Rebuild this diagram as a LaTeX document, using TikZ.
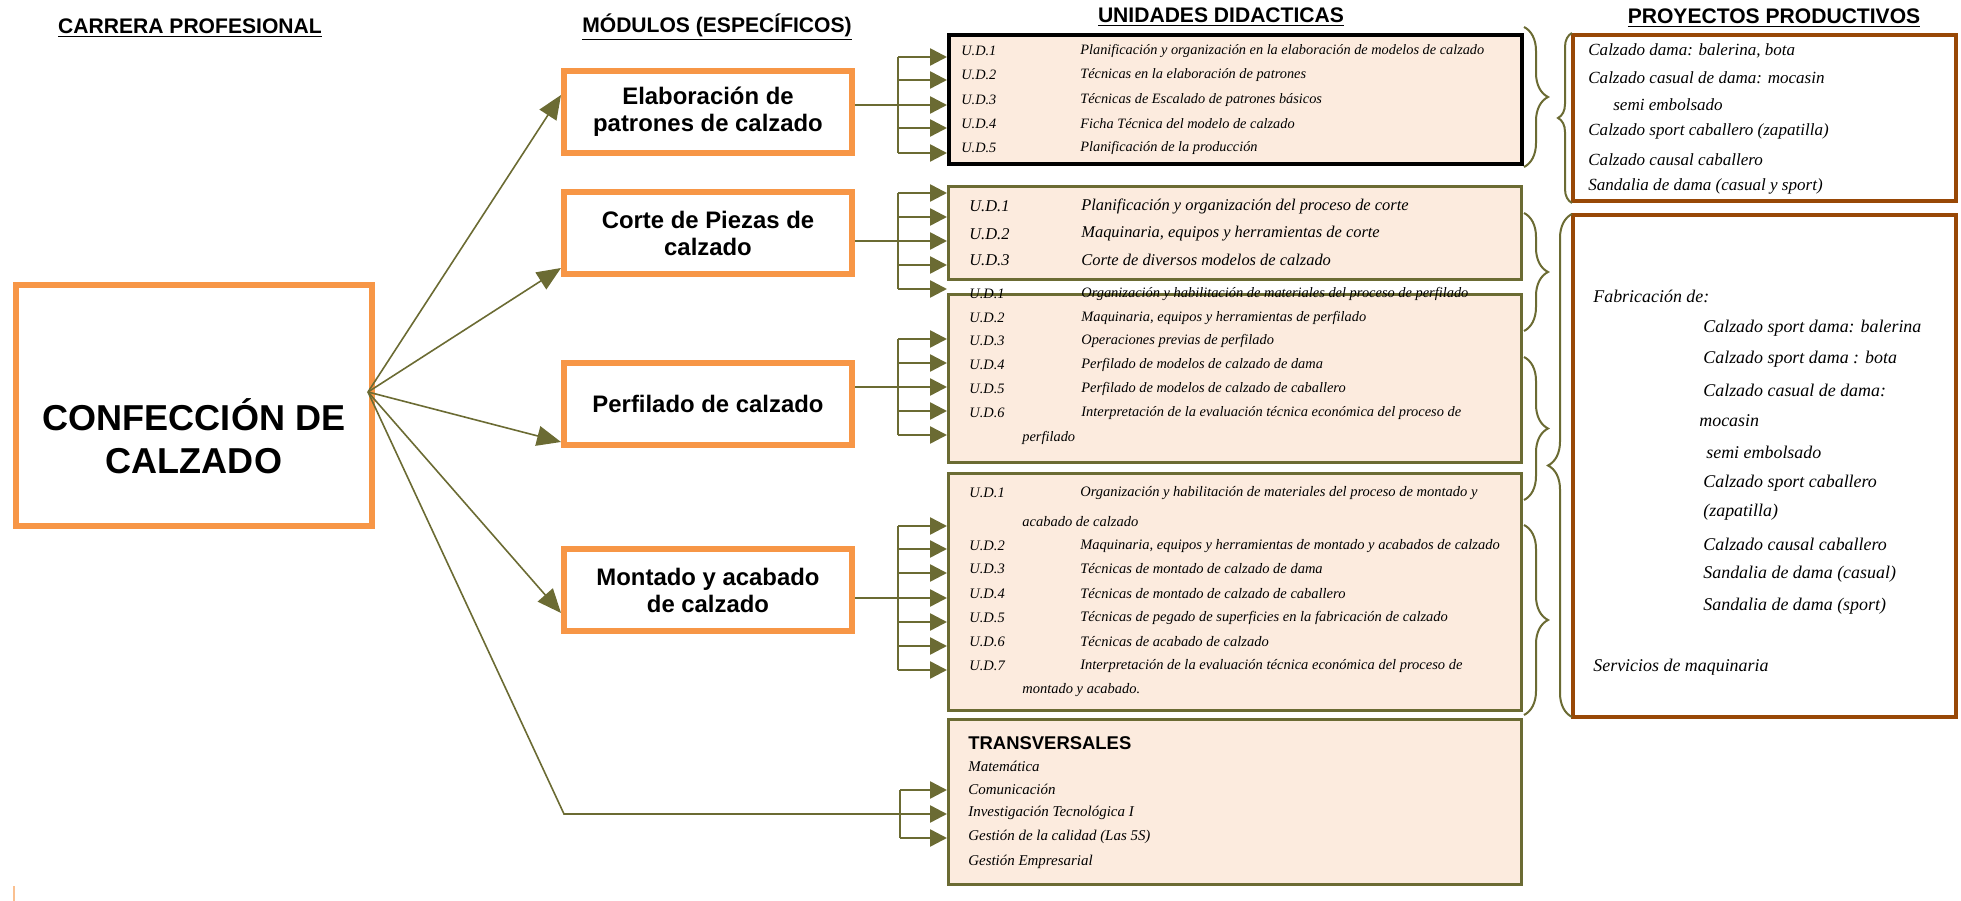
\documentclass[tikz,border=0pt]{standalone}
\usepackage{fontspec}
\setmainfont{Liberation Sans}
\newfontfamily\serifscr{Liberation Serif}
\usetikzlibrary{arrows.meta,decorations.pathreplacing}
\definecolor{olivo}{RGB}{107,107,51}
\definecolor{naranja}{RGB}{247,150,70}
\definecolor{durazno}{RGB}{252,235,222}
\definecolor{cafe}{RGB}{152,72,6}
\newlength\px
\setlength\px{0.02cm}
\newcommand\scr{\serifscr\itshape}
\newcommand\fs[2]{\fontsize{#1pt}{#2pt}\selectfont}
\begin{document}
\begin{tikzpicture}[x=0.02cm, y=-0.02cm,
        modbox/.style={draw=naranja, line width=6\px, fill=white, minimum width=288\px,
            minimum height=82\px, align=center, font=\bfseries\fs{13.6}{15.4}},
        caja/.style={line width=3\px, anchor=north west, inner sep=0pt, minimum width=573\px},
        titulo/.style={anchor=base, font=\bfseries\fs{12}{14}},
        ud/.style={anchor=west, inner sep=0pt, font=\scr\fs{#1}{11}},
        bus/.style={olivo, line width=2.5\px},
        rama/.style={bus, -{Triangle[length=0.34cm, width=0.34cm]}},
        abanico/.style={olivo, line width=1.6\px, -{Triangle[length=0.48cm, width=0.4cm]}},
        llave/.style={olivo, line width=2\px, decorate, decoration={brace, amplitude=#1}}]
    \useasboundingbox (0,0) rectangle (1961,901);
    % column headings
    \node[titulo] (tcarrera) at (190,34) {\underline{CARRERA PROFESIONAL}};
    \node[titulo] (tmodulos) at (717,33) {\underline{MÓDULOS (ESPECÍFICOS)}};
    \node[titulo] (tunidades) at (1221,23) {\underline{UNIDADES DIDACTICAS}};
    \node[titulo] (tproyectos) at (1774,24) {\underline{PROYECTOS PRODUCTIVOS}};
    % career and modules
    \node[draw=naranja, line width=6\px, minimum width=356\px, minimum height=241\px]
        (carrera) at (194,405.5) {};
    \node[align=center, font=\bfseries\fs{20.5}{24.5}] (carreratxt) at (194,436)
        {CONFECCIÓN DE\\CALZADO};
    \node[modbox] (elab) at (708,112) {Elaboración de\\patrones de calzado};
    \node[modbox] (corte) at (708,233.5) {Corte de Piezas de\\calzado};
    \node[modbox] (perf) at (708,404) {Perfilado de calzado};
    \node[modbox] (mont) at (708,590.5) {Montado y acabado\\de calzado};
    % unit boxes
    \node[caja, draw=black, line width=4\px, fill=durazno, minimum height=129\px] (udA) at (947,33) {};
    \node[caja, draw=olivo, fill=durazno, minimum height=93\px] (udB) at (947,185) {};
    \node[caja, draw=olivo, fill=durazno, minimum height=168\px] (udC) at (947,293) {};
    \node[caja, draw=olivo, fill=durazno, minimum height=237\px] (udD) at (947,472) {};
    \node[caja, draw=olivo, fill=durazno, minimum height=165\px] (transv) at (947,718) {};
    % project boxes
    \node[caja, draw=cafe, line width=4\px, minimum width=383\px, minimum height=166\px] (proyA) at (1571,33) {};
    \node[caja, draw=cafe, line width=4\px, minimum width=383\px, minimum height=502\px] (proyB) at (1571,213) {};
    % fan from the career
    \coordinate (fan) at (368,392);
    \draw[abanico] (fan) -- (elab.west |- 0,95);
    \draw[abanico] (fan) -- (corte.west |- 0,268);
    \draw[abanico] (fan) -- (perf.west |- 0,442);
    \draw[abanico] (fan) -- (mont.west |- 0,613);
    \draw[olivo, line width=1.6\px] (fan) -- (564,814) -- (900,814);
    % buses to the units
    \foreach \mod/\ud/\yc/\ya/\yb/\lista in {elab/udA/105/57/153/{57,80,105,128,153},
            corte/udB/241/193/289/{193,217,241,265,289},
            perf/udC/387/339/435/{339,363,387,411,435},
            mont/udD/598/526/670/{526,549,573,598,622,646,670}} {
        \draw[bus] (\mod.east |- 0,\yc) -- (898,\yc);
        \draw[bus] (898,\ya) -- (898,\yb);
        \foreach \y in \lista
            \draw[rama] (898,\y) -- (\ud.west |- 0,\y);
    }
    \draw[bus] (900,790) -- (900,838);
    \foreach \y in {790,814,838}
        \draw[rama] (900,\y) -- (transv.west |- 0,\y);
    % unit texts
    \foreach \y/\n/\t in {51/1/Planificación y organización en la elaboración de modelos de calzado,
            75/2/Técnicas  en la elaboración de patrones,
            100/3/Técnicas de Escalado de patrones básicos,
            124/4/Ficha Técnica del modelo de calzado,
            148/5/Planificación de la producción} {
        \node[ud=8.15] (udA-n\n) at (961,\y) {U.D.\n};
        \node[ud=8.15] (udA-t\n) at (1080,\y) {\t};
    }
    \foreach \y/\n/\t in {206/1/Planificación y organización del proceso de corte,
            234/2/{Maquinaria, equipos y herramientas de corte},
            260/3/Corte de diversos modelos de calzado} {
        \node[ud=9.35] (udB-n\n) at (969,\y) {U.D.\n};
        \node[ud=9.35] (udB-t\n) at (1081,\y) {\t};
    }
    \foreach \y/\n/\t in {294/1/Organización y habilitación de materiales del proceso de perfilado,
            318/2/{Maquinaria, equipos y herramientas de perfilado},
            341/3/Operaciones previas de perfilado,
            365/4/Perfilado de modelos de calzado  de dama,
            389/5/Perfilado de modelos de calzado  de caballero,
            413/6/Interpretación de la evaluación técnica económica del proceso de} {
        \node[ud=8.2] (udC-n\n) at (969,\y) {U.D.\n};
        \node[ud=8.2] (udC-t\n) at (1081,\y) {\t};
    }
    \node[ud=8.2] (udC-t7) at (1022,438) {perfilado};
    \foreach \y/\n/\t in {493/1/Organización y habilitación de materiales del proceso de montado y,
            546/2/{Maquinaria, equipos y herramientas de montado y acabados de calzado},
            569/3/Técnicas de montado  de calzado de dama,
            594/4/Técnicas de montado  de calzado de caballero,
            618/5/Técnicas de pegado de superficies en la fabricación de calzado,
            642/6/Técnicas de acabado de calzado,
            666/7/Interpretación de la evaluación técnica económica del proceso de} {
        \node[ud=8.25] (udD-n\n) at (969,\y) {U.D.\n};
        \node[ud=8.25] (udD-t\n) at (1080,\y) {\t};
    }
    \node[ud=8.25] (udD-t8) at (1022,522) {acabado de calzado};
    \node[ud=8.25] (udD-t9) at (1022,690) {montado y acabado.};
    \node[anchor=west, inner sep=0pt, font=\bfseries\fs{10.5}{12}] (transvtit) at (968,743) {TRANSVERSALES};
    \foreach \y/\t [count=\i] in {766/Matemática, 789/Comunicación, 813/Investigación Tecnológica I,
            837/Gestión de la calidad (Las 5S), 862/Gestión Empresarial}
        \node[ud=8.5] (transv-t\i) at (968,\y) {\t};
    % project texts
    \foreach \x/\y/\t [count=\i] in {1588/51/{Calzado dama: balerina, bota},
            1588/78/Calzado casual de dama: mocasin, 1613/105/semi  embolsado,
            1588/131/Calzado sport caballero (zapatilla), 1588/160/Calzado causal caballero,
            1588/186/Sandalia de dama (casual y sport)}
        \node[ud=9.7] (proyA-t\i) at (\x,\y) {\t};
    \foreach \x/\y/\t [count=\i] in {1593/296/Fabricación de:, 1703/328/Calzado sport dama: balerina,
            1703/359/Calzado sport dama : bota, 1703/390/Calzado casual de dama:,
            1699/421/mocasin, 1706/452/semi  embolsado, 1703/483/Calzado sport caballero,
            1703/512/(zapatilla), 1703/544/Calzado causal caballero,
            1703/574/Sandalia de dama (casual), 1703/606/Sandalia de dama (sport),
            1593/667/Servicios de maquinaria}
        \node[ud=10.2] (proyB-t\i) at (\x,\y) {\t};
    % braces
    \draw[llave=24\px] (1524,27) -- (1524,167);
    \draw[llave=24\px] (1524,213) -- (1524,331);
    \draw[llave=24\px] (1524,357) -- (1524,500);
    \draw[llave=24\px] (1524,525) -- (1524,715);
    \draw[llave=14\px] (1572,203) -- (1572,33);
    \draw[llave=24\px] (1572,717) -- (1572,214);
    \draw[naranja!60, line width=2\px] (14,886) -- (14,901);
\end{tikzpicture}
\end{document}
